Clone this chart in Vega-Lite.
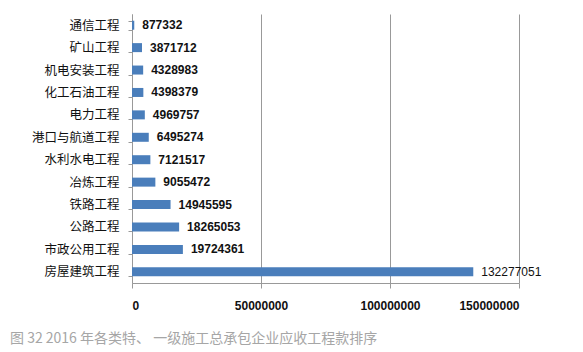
{
  "$schema": "https://vega.github.io/schema/vega-lite/v6.json",
  "width": 387,
  "height": 269,
  "autosize": "none",
  "padding": {"left": 132, "top": 14, "right": 64, "bottom": 69},
  "background": "white",
  "title": {
    "text": "图 32 2016 年各类特、 一级施工总承包企业应收工程款排序",
    "orient": "bottom",
    "anchor": "start",
    "frame": "group",
    "dx": -122,
    "offset": 21,
    "font": "Noto Sans CJK SC",
    "fontSize": 14,
    "fontWeight": "normal",
    "color": "#a6a6a6"
  },
  "data": {
    "values": [
      {"category": "通信工程", "value": 877332},
      {"category": "矿山工程", "value": 3871712},
      {"category": "机电安装工程", "value": 4328983},
      {"category": "化工石油工程", "value": 4398379},
      {"category": "电力工程", "value": 4969757},
      {"category": "港口与航道工程", "value": 6495274},
      {"category": "水利水电工程", "value": 7121517},
      {"category": "冶炼工程", "value": 9055472},
      {"category": "铁路工程", "value": 14945595},
      {"category": "公路工程", "value": 18265053},
      {"category": "市政公用工程", "value": 19724361},
      {"category": "房屋建筑工程", "value": 132277051}
    ]
  },
  "encoding": {
    "y": {
      "field": "category",
      "type": "nominal",
      "sort": ["通信工程", "矿山工程", "机电安装工程", "化工石油工程", "电力工程", "港口与航道工程", "水利水电工程", "冶炼工程", "铁路工程", "公路工程", "市政公用工程", "房屋建筑工程"],
      "scale": {"paddingInner": 0.6, "paddingOuter": 0.3},
      "axis": {
        "title": null,
        "tickBand": "extent",
        "tickSize": 4,
        "tickColor": "#999999",
        "domainColor": "#999999",
        "labelPadding": 9,
        "labelFont": "Noto Sans CJK SC",
        "labelFontSize": 12.5,
        "labelColor": "#111111",
        "grid": false
      }
    },
    "x": {
      "field": "value",
      "type": "quantitative",
      "scale": {"domain": [0, 150000000], "nice": false},
      "axis": {
        "title": null,
        "values": [0, 50000000, 100000000, 150000000],
        "format": "d",
        "grid": true,
        "gridColor": "#999999",
        "gridWidth": 1,
        "tickSize": 5,
        "tickColor": "#999999",
        "domainColor": "#999999",
        "labelPadding": 12,
        "labelFont": "Liberation Sans",
        "labelFontSize": 12,
        "labelFontWeight": "bold",
        "labelColor": "#111111"
      }
    }
  },
  "layer": [
    {
      "mark": {"type": "bar", "color": "#4a7ebb", "size": 9}
    },
    {
      "transform": [{"filter": "datum.value < 100000000"}],
      "mark": {
        "type": "text",
        "align": "left",
        "baseline": "middle",
        "dx": 8,
        "font": "Liberation Sans",
        "fontSize": 12,
        "fontWeight": "bold",
        "color": "#111111"
      },
      "encoding": {
        "text": {"field": "value", "type": "quantitative", "format": "d"}
      }
    },
    {
      "transform": [{"filter": "datum.value >= 100000000"}],
      "mark": {
        "type": "text",
        "align": "left",
        "baseline": "middle",
        "dx": 8,
        "font": "Liberation Sans",
        "fontSize": 12,
        "fontWeight": "normal",
        "color": "#111111"
      },
      "encoding": {
        "text": {"field": "value", "type": "quantitative", "format": "d"}
      }
    }
  ],
  "config": {
    "view": {"stroke": null},
    "axis": {"gridOpacity": 1}
  }
}
